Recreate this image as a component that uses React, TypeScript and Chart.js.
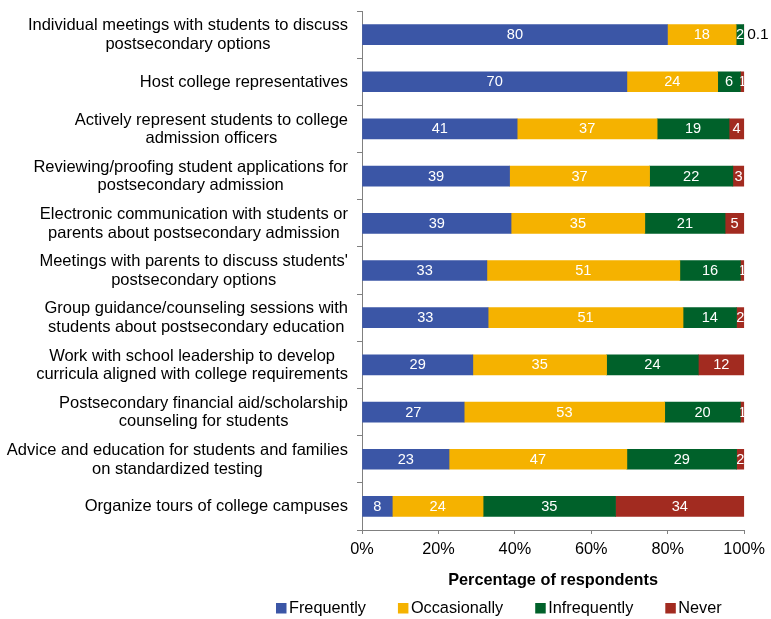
import { useEffect, useRef } from 'react';
import { Chart, registerables } from 'chart.js';

Chart.register(...registerables);

const categories: string[][] = [
  ['Individual meetings with students to discuss', 'postsecondary options'],
  ['Host college representatives'],
  ['Actively represent students to college', 'admission officers'],
  ['Reviewing/proofing student applications for', 'postsecondary admission'],
  ['Electronic communication with students or', 'parents about postsecondary admission'],
  ["Meetings with parents to discuss students'", 'postsecondary options'],
  ['Group guidance/counseling sessions with', 'students about postsecondary education'],
  ['Work with school leadership to develop', 'curricula aligned with college requirements'],
  ['Postsecondary financial aid/scholarship', 'counseling for students'],
  ['Advice and education for students and families', 'on standardized testing'],
  ['Organize tours of college campuses'],
];

const seriesNames = ['Frequently', 'Occasionally', 'Infrequently', 'Never'];
const frequently = [80, 70, 41, 39, 39, 33, 33, 29, 27, 23, 8];
const occasionally = [18, 24, 37, 37, 35, 51, 51, 35, 53, 47, 24];
const infrequently = [2, 6, 19, 22, 21, 16, 14, 24, 20, 29, 35];
const never = [0.1, 1, 4, 3, 5, 1, 2, 12, 1, 2, 34];
const xTickValues = [0, 20, 40, 60, 80, 100];
const axisTitle = 'Percentage of respondents';

const seriesColors = ['#3B56A6', '#F5B200', '#00612A', '#A22B20'];
const FONT = '"Liberation Sans", Arial, sans-serif';

export default function App() {
  const canvasRef = useRef<HTMLCanvasElement | null>(null);

  useEffect(() => {
    document.body.style.margin = '0';
    const canvas = canvasRef.current;
    if (!canvas) return;

    const allSeries = [frequently, occasionally, infrequently, never];
    const rowTotals = categories.map((_, i) => allSeries.reduce((s, arr) => s + arr[i], 0));

    const customPlugin = {
      id: 'customText',
      afterDatasetsDraw(chart: any) {
        const ctx = chart.ctx;
        chart.data.datasets.forEach((ds: any, di: number) => {
          const meta = chart.getDatasetMeta(di);
          meta.data.forEach((el: any, i: number) => {
            const raw = ds.rawValues[i];
            const p = el.getProps(['x', 'y', 'base', 'height'], true);
            const l = Math.min(p.x, p.base);
            const r = Math.max(p.x, p.base);
            ctx.save();
            ctx.textBaseline = 'middle';
            if (raw < 0.5) {
              ctx.font = `15.5px ${FONT}`;
              ctx.fillStyle = '#000';
              ctx.textAlign = 'left';
              ctx.fillText(String(raw), r + 3, p.y);
            } else {
              ctx.beginPath();
              ctx.rect(l, p.y - p.height / 2, r - l, p.height);
              ctx.clip();
              ctx.font = `14.6px ${FONT}`;
              ctx.fillStyle = '#fff';
              ctx.textAlign = 'center';
              ctx.fillText(String(raw), (l + r) / 2, p.y + 0.5);
            }
            ctx.restore();
          });
        });
      },
      afterDraw(chart: any) {
        const ctx = chart.ctx;
        const yScale = chart.scales.y;
        ctx.save();
        ctx.font = `16.5px ${FONT}`;
        ctx.fillStyle = '#000';
        ctx.textBaseline = 'middle';
        ctx.textAlign = 'center';
        const rightEdge = 348;
        const lineH = 18.5;
        (chart.data.labels as string[][]).forEach((lines, i) => {
          const yc = yScale.getPixelForValue(i);
          const blockW = Math.max(...lines.map((t) => ctx.measureText(t).width));
          const cx = rightEdge - blockW / 2;
          const startY = yc - ((lines.length - 1) * lineH) / 2 + 0.5;
          lines.forEach((t, k) => ctx.fillText(t, cx, startY + k * lineH));
        });

        // legend
        ctx.font = `16.3px ${FONT}`;
        let lx = 276;
        const ly = 608;
        ctx.textAlign = 'left';
        chart.data.datasets.forEach((ds: any) => {
          ctx.fillStyle = ds.backgroundColor;
          ctx.fillRect(lx, ly - 5, 10.5, 10.5);
          ctx.fillStyle = '#000';
          const tx = lx + 13;
          ctx.fillText(ds.label, tx, ly + 0.5);
          lx = tx + ctx.measureText(ds.label).width + 32;
        });
        ctx.restore();
      },
    };

    const chart = new Chart(canvas, {
      type: 'bar',
      data: {
        labels: categories as any,
        datasets: allSeries.map((arr, si) => ({
          label: seriesNames[si],
          data: arr.map((v, i) => (v / rowTotals[i]) * 100),
          rawValues: arr,
          backgroundColor: seriesColors[si],
          borderWidth: 0,
          barThickness: 20,
        })) as any,
      },
      options: {
        indexAxis: 'y',
        animation: false,
        responsive: false,
        devicePixelRatio: 1,
        layout: { padding: { top: 11, right: 26, bottom: 26, left: 0 } },
        plugins: {
          legend: { display: false },
          tooltip: { enabled: false },
        },
        scales: {
          x: {
            stacked: true,
            min: 0,
            max: 100,
            afterFit: (scale: any) => {
              scale.height = 63;
            },
            afterBuildTicks: (scale: any) => {
              scale.ticks = xTickValues.map((v) => ({ value: v }));
            },
            ticks: {
              callback: (v: any) => `${v}%`,
              color: '#000',
              font: { family: FONT, size: 16.3 },
              padding: 6,
              maxRotation: 0,
            },
            grid: {
              drawOnChartArea: false,
              color: '#808080',
              tickLength: 4,
            },
            border: { color: '#808080', width: 1 },
            title: {
              display: true,
              text: axisTitle,
              color: '#000',
              font: { family: FONT, size: 16.3, weight: 'bold' },
              padding: { top: 0, bottom: 3 },
            },
          },
          y: {
            stacked: true,
            afterFit: (scale: any) => {
              scale.width = 362;
            },
            ticks: { display: false },
            grid: {
              drawOnChartArea: false,
              color: '#808080',
              tickLength: 5,
              offset: true,
            },
            border: { color: '#808080', width: 1 },
          },
        },
      } as any,
      plugins: [customPlugin],
    });

    return () => chart.destroy();
  }, []);

  return <canvas ref={canvasRef} width={771} height={619} style={{ display: 'block', width: 771, height: 619 }} />;
}
